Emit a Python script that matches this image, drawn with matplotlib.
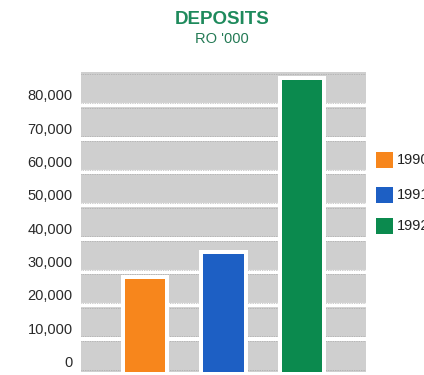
import matplotlib.pyplot as plt
from matplotlib.patches import Rectangle

plt.rcParams["font.family"] = ["Liberation Sans", "DejaVu Sans"]

# ---- Data (RO '000)
years = ["1990", "1991", "1992"]
deposits = [28000, 35500, 87500]
bar_colors = ["#f7861c", "#1d5fc4", "#0b8a4e"]
y_ticks = [0, 10000, 20000, 30000, 40000, 50000, 60000, 70000, 80000]
y_top = 90000

W, H, DPI = 424, 375, 100
fig = plt.figure(figsize=(W / DPI, H / DPI), dpi=DPI)
fig.patch.set_facecolor("white")

# axes box in pixels: left 81, right 366, top 72, bottom 372
ax = fig.add_axes([81 / W, (H - 372) / H, 285 / W, 300 / H])
ax.set_facecolor("#cfcfcf")
ax.set_xlim(-0.815, 2.815)
ax.set_ylim(0, y_top)
for spine in ax.spines.values():
    spine.set_visible(False)
ax.set_xticks([])
ax.set_yticks([])

# white separators between the grey bands
for v in y_ticks[1:]:
    ax.axhline(v, color="white", linewidth=3.0, zorder=1)

# thin dotted edges on the bands
px = y_top / 300.0
for v in y_ticks + [y_top]:
    for off in (-2.2 * px, 2.2 * px):
        yy = v + off
        if 0 < yy < y_top:
            ax.axhline(yy, color="#9a9a9a", linewidth=0.5, linestyle=(0, (1, 1.5)), zorder=1.5)

# bars with a white frame round them
x = list(range(len(years)))
unit = 78.5  # pixels per x unit
ax.bar(x, [d + 4 * px for d in deposits], width=(40 + 8) / unit,
       color="white", zorder=2)
ax.bar(x, deposits, width=40 / unit, color=bar_colors, zorder=3)

# y tick labels sit a little above their separator
for v in y_ticks:
    ax.annotate(f"{v:,}", xy=(0, v), xycoords=("axes fraction", "data"),
                xytext=(-6, 6.5), textcoords="offset points",
                ha="right", va="center", fontsize=10.5, color="#2a2a2a",
                annotation_clip=False)

# titles
fig.text(222 / W, 1 - 20 / H, "DEPOSITS", ha="center", va="center",
         fontsize=13.5, fontweight="bold", color="#1e8a5c")
fig.text(222 / W, 1 - 39 / H, "RO '000", ha="center", va="center",
         fontsize=10.5, color="#247a55")

# legend
legend_y = [160, 195, 226]
for label, color, yc in zip(years, bar_colors, legend_y):
    fig.add_artist(Rectangle((376 / W, 1 - (yc + 8) / H), 17 / W, 16 / H,
                             transform=fig.transFigure, facecolor=color,
                             edgecolor="none"))
    fig.text(397 / W, 1 - yc / H, label, ha="left", va="center",
             fontsize=10.5, color="#222222")

fig.savefig("out.png", dpi=DPI)
